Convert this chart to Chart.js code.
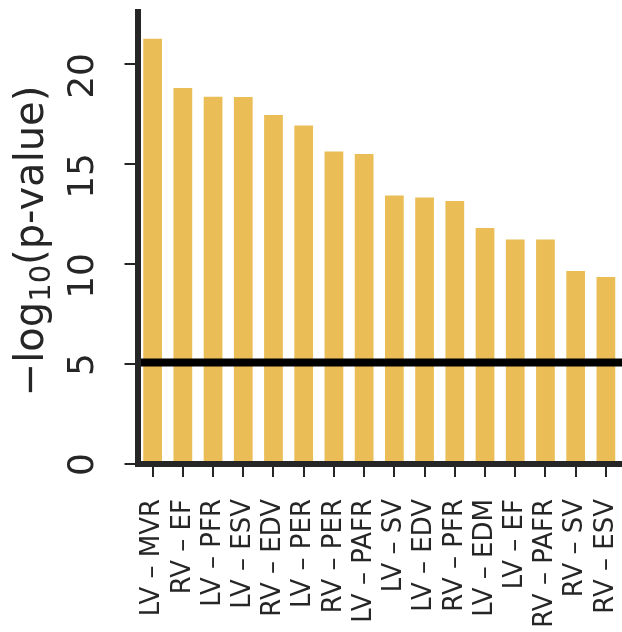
<!DOCTYPE html>
<html>
<head>
<meta charset="utf-8">
<script src="https://cdn.jsdelivr.net/npm/chart.js@4.4.0/dist/chart.umd.min.js"></script>
<style>
  html, body { margin: 0; padding: 0; background: #fff; }
  #wrap { width: 622px; height: 632px; }
</style>
</head>
<body>
<div id="wrap"><canvas id="barChart"></canvas></div>
<script>
// Association strength per cardiac trait, sorted
const traits = ['LV – MVR', 'RV – EF', 'LV – PFR', 'LV – ESV', 'RV – EDV', 'LV – PER', 'RV – PER', 'LV – PAFR',
                'LV – SV', 'LV – EDV', 'RV – PFR', 'LV – EDM', 'LV – EF', 'RV – PAFR', 'RV – SV', 'RV – ESV'];
const negLogP = [21.26, 18.8, 18.36, 18.35, 17.45, 16.93, 15.63, 15.5, 13.43, 13.32, 13.15, 11.8, 11.22, 11.22, 9.65, 9.35];
const threshold = 5.08;
const yTicks = [0, 5, 10, 15, 20];
const yMax = 22.6;

const ink = '#262626';
Chart.defaults.font.family = '"DejaVu Sans"';

// y tick labels are rotated, so they are drawn here instead of by the scale
const extras = {
    id: 'extras',
    afterDatasetsDraw(chart) {
        const { ctx, chartArea, scales: { y } } = chart;
        const ty = y.getPixelForValue(threshold);
        ctx.save();
        ctx.strokeStyle = '#000';
        ctx.lineWidth = 8;
        ctx.beginPath();
        ctx.moveTo(chartArea.left + 3, ty);
        ctx.lineTo(chart.width, ty);
        ctx.stroke();
        ctx.restore();
    },
    afterDraw(chart) {
        const { ctx, scales: { y } } = chart;
        ctx.save();
        ctx.fillStyle = ink;
        ctx.font = '36px "DejaVu Sans"';
        ctx.textAlign = 'right';
        ctx.textBaseline = 'alphabetic';
        y.ticks.forEach(t => {
            const py = y.getPixelForValue(t.value);
            ctx.save();
            ctx.translate(93, py - 11);
            ctx.rotate(-Math.PI / 2);
            ctx.fillText(String(t.value), 0, 0);
            ctx.restore();
        });

        // axis title with a subscript 10
        const parts = [['−log', '40px "DejaVu Sans"', 0], ['10', '29px "DejaVu Sans"', 7], ['(p-value)', '40px "DejaVu Sans"', 0]];
        ctx.translate(43, 241);
        ctx.rotate(-Math.PI / 2);
        ctx.textAlign = 'left';
        let total = 0;
        parts.forEach(([t, f]) => { ctx.font = f; total += ctx.measureText(t).width; });
        let x = -total / 2;
        parts.forEach(([t, f, dy]) => {
            ctx.font = f;
            ctx.fillText(t, x, dy);
            x += ctx.measureText(t).width;
        });
        ctx.restore();
    }
};

const ctx = document.getElementById('barChart').getContext('2d');
new Chart(ctx, {
    type: 'bar',
    data: {
        labels: traits,
        datasets: [{
            data: negLogP,
            backgroundColor: '#eabd56',
            barPercentage: 0.62,
            categoryPercentage: 1
        }]
    },
    options: {
        responsive: true,
        maintainAspectRatio: false,
        animation: false,
        layout: { padding: { top: 12, right: 1, left: 0, bottom: 0 } },
        plugins: { legend: { display: false }, tooltip: { enabled: false } },
        scales: {
            x: {
                offset: true,
                grid: { display: true, offset: false, drawOnChartArea: false, tickLength: 13, lineWidth: 2, color: ink, z: 1 },
                border: { display: true, color: ink, width: 6, z: 1 },
                ticks: { autoSkip: false, minRotation: 90, maxRotation: 90, padding: 22, color: ink, font: { size: 26 } },
                afterFit(scale) {
                    scale.height = 168;
                    scale.paddingLeft = 0;
                    scale.paddingRight = 0;
                }
            },
            y: {
                min: 0,
                max: yMax,
                grid: { display: true, drawOnChartArea: false, tickLength: 13, lineWidth: 2, color: ink },
                border: { display: true, color: ink, width: 6, z: 1 },
                ticks: { display: false },
                afterBuildTicks(scale) { scale.ticks = yTicks.map(v => ({ value: v })); },
                afterFit(scale) {
                    scale.width = 137.5;
                    scale.paddingTop = 0;
                    scale.paddingBottom = 0;
                }
            }
        }
    },
    plugins: [extras]
});
</script>
</body>
</html>
